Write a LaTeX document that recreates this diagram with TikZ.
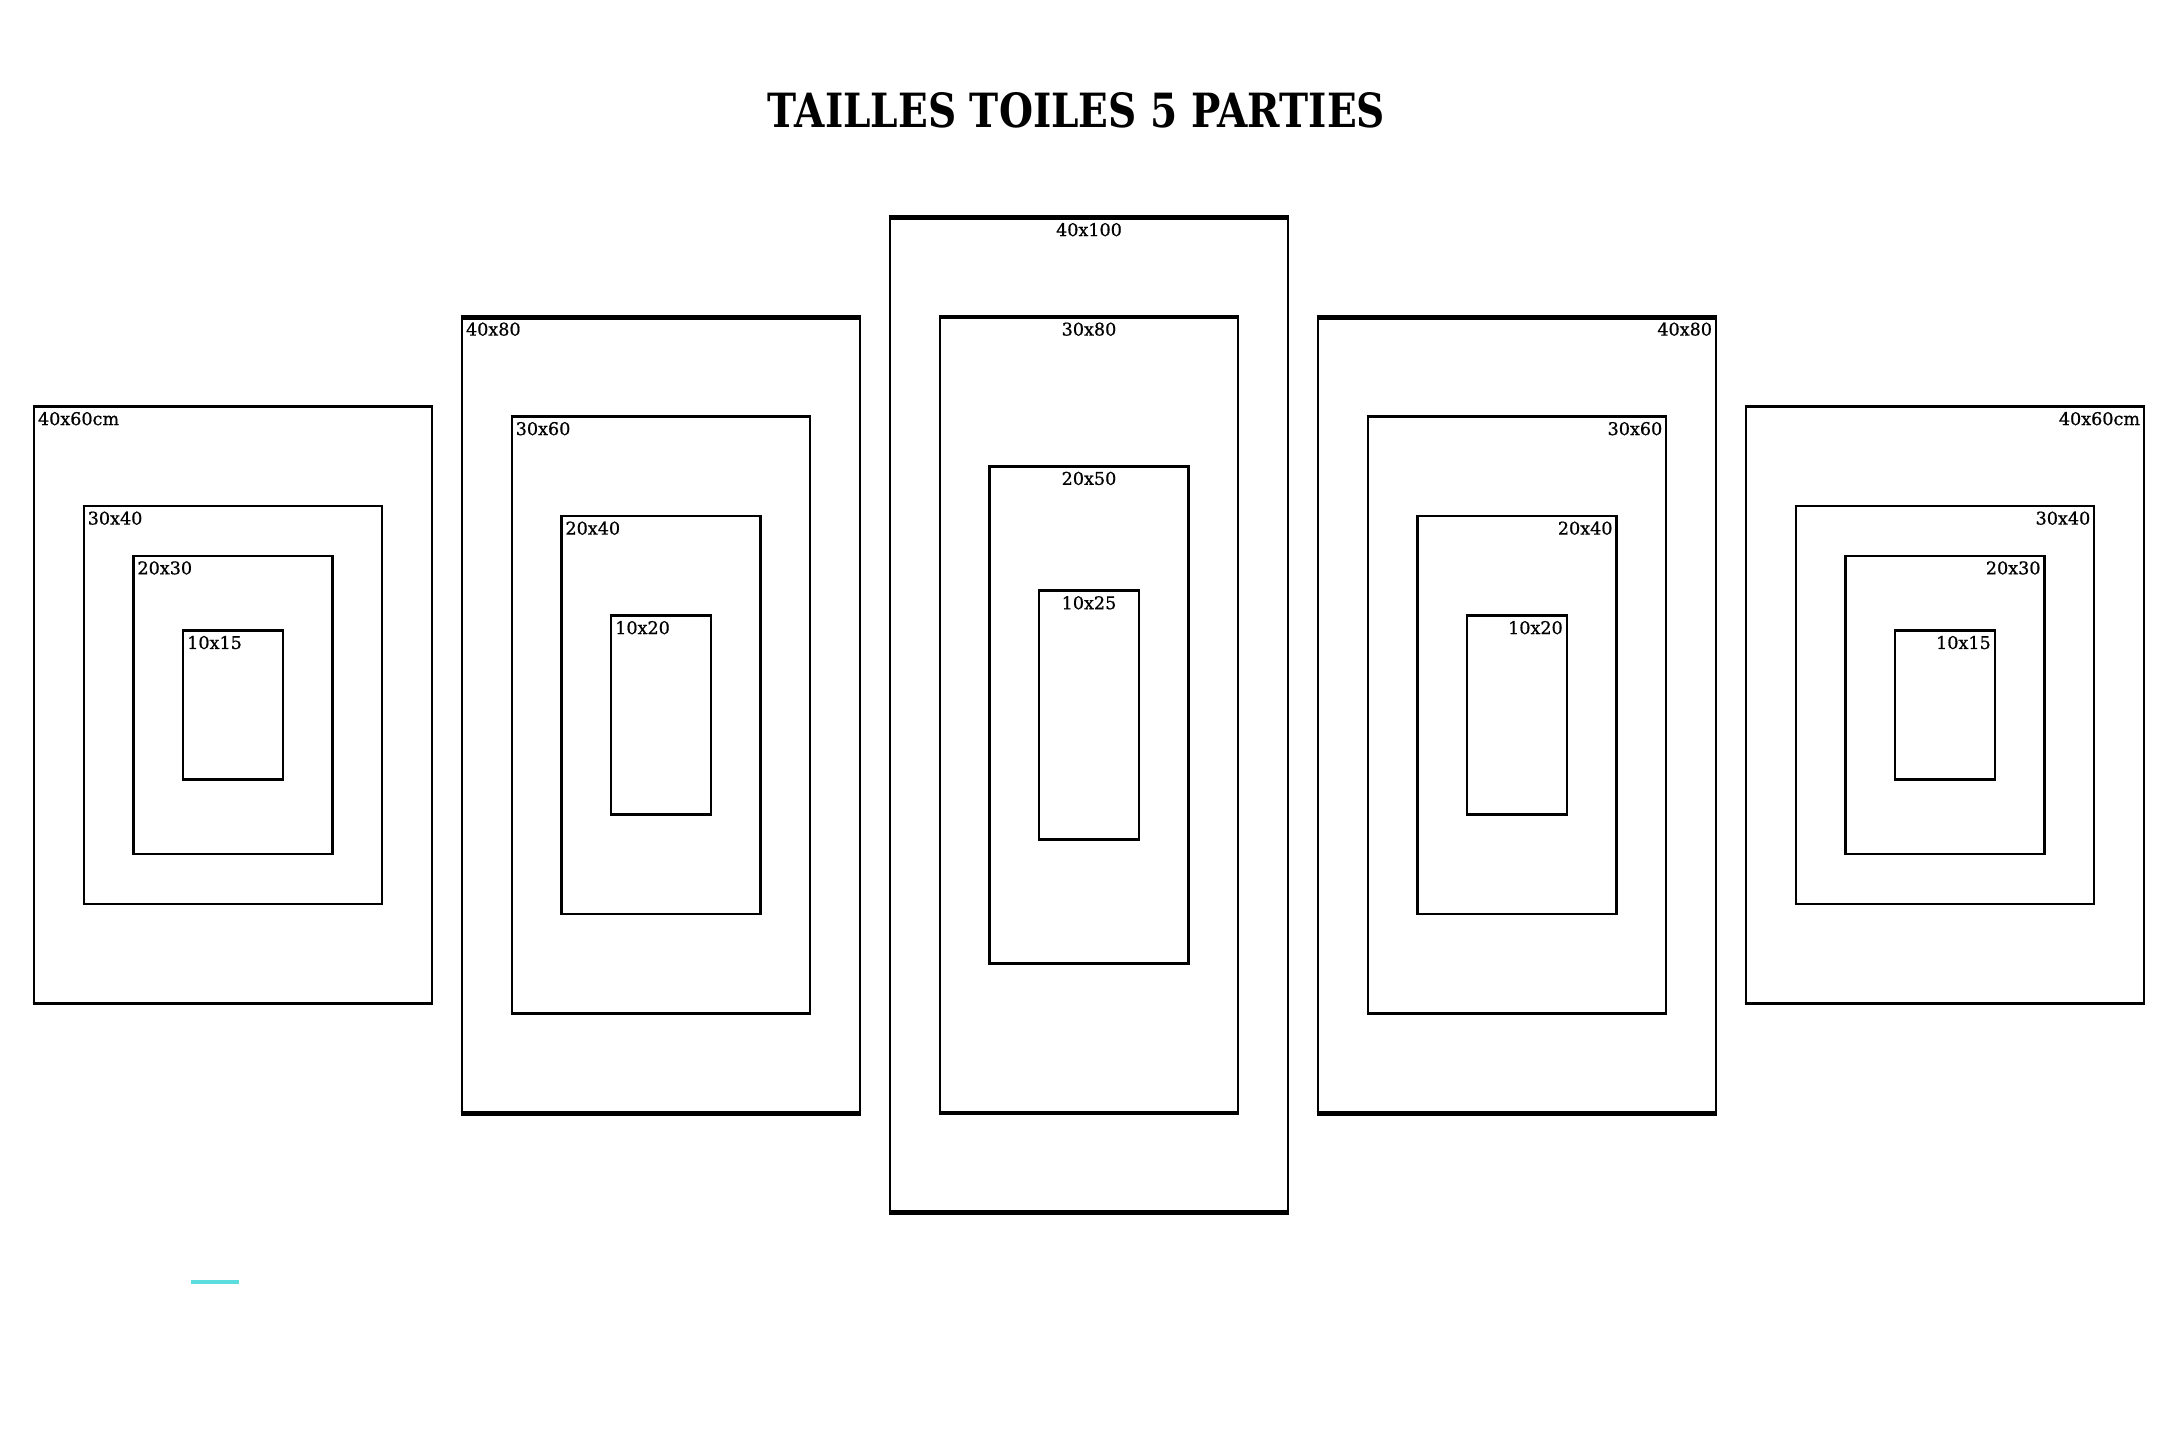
\documentclass[tikz,border=0pt]{standalone}
\usepackage{fontspec}
\usepackage{graphicx}
\setmainfont{DejaVu Serif}
\newfontfamily\lblfont{DejaVu Serif}[FakeBold=0.8]
\definecolor{cyanline}{RGB}{92,221,221}
\newcommand\cbox[7]{%
  \node[cbox, line width=#6, minimum width=#4*0.995mm, minimum height=#5*0.995mm] (#1) at (#2,#3) {};
  \draw[line width=#7] ([xshift=-#6/2]#1.north west) -- ([xshift=#6/2]#1.north east);
  \draw[line width=#7] ([xshift=-#6/2]#1.south west) -- ([xshift=#6/2]#1.south east);
}
\begin{document}
\begin{tikzpicture}[x=0.1mm,y=-0.1mm,
  cbox/.style={draw=black, rectangle, inner sep=0pt, outer sep=0pt},
  lbl/.style={inner sep=0pt, outer sep=0pt, font=\lblfont\fontsize{5pt}{5pt}\selectfont},
  lblL/.style={lbl, anchor=north west, xshift=0.4mm, yshift=-0.55mm},
  lblR/.style={lbl, anchor=north east, xshift=-0.4mm, yshift=-0.55mm},
  lblC/.style={lbl, anchor=north, yshift=-0.55mm},
]
\fill[white] (0,0) rectangle (2164,1429);
\useasboundingbox (0,0) rectangle (2164,1429);

\node[anchor=base, inner sep=0pt] (title) at (1076.5,127) {\resizebox{61.7mm}{3.5mm}{\bfseries TAILLES TOILES 5 PARTIES}};

% Panel 1
\cbox{p1a}{233}{705}{40}{60}{0.27mm}{0.32mm}
\cbox{p1b}{233}{705}{30}{40}{0.24mm}{0.29mm}
\cbox{p1c}{233}{705}{20}{30}{0.22mm}{0.24mm}
\cbox{p1d}{233}{705}{10}{15}{0.22mm}{0.24mm}
\node[lblL] (l1a) at (p1a.north west) {40x60cm};
\node[lblL] (l1b) at (p1b.north west) {30x40};
\node[lblL] (l1c) at (p1c.north west) {20x30};
\node[lblL] (l1d) at (p1d.north west) {10x15};

% Panel 2
\cbox{p2a}{661}{715}{40}{80}{0.27mm}{0.5mm}
\cbox{p2b}{661}{715}{30}{60}{0.24mm}{0.36mm}
\cbox{p2c}{661}{715}{20}{40}{0.22mm}{0.26mm}
\cbox{p2d}{661}{715}{10}{20}{0.22mm}{0.24mm}
\node[lblL] (l2a) at (p2a.north west) {40x80};
\node[lblL] (l2b) at (p2b.north west) {30x60};
\node[lblL] (l2c) at (p2c.north west) {20x40};
\node[lblL] (l2d) at (p2d.north west) {10x20};

% Panel 3
\cbox{p3a}{1089}{715}{40}{100}{0.27mm}{0.5mm}
\cbox{p3b}{1089}{715}{30}{80}{0.24mm}{0.42mm}
\cbox{p3c}{1089}{715}{20}{50}{0.24mm}{0.3mm}
\cbox{p3d}{1089}{715}{10}{25}{0.22mm}{0.24mm}
\node[lblC] (l3a) at (p3a.north) {40x100};
\node[lblC] (l3b) at (p3b.north) {30x80};
\node[lblC] (l3c) at (p3c.north) {20x50};
\node[lblC] (l3d) at (p3d.north) {10x25};

% Panel 4
\cbox{p4a}{1517}{715}{40}{80}{0.27mm}{0.5mm}
\cbox{p4b}{1517}{715}{30}{60}{0.24mm}{0.36mm}
\cbox{p4c}{1517}{715}{20}{40}{0.22mm}{0.26mm}
\cbox{p4d}{1517}{715}{10}{20}{0.22mm}{0.24mm}
\node[lblR] (l4a) at (p4a.north east) {40x80};
\node[lblR] (l4b) at (p4b.north east) {30x60};
\node[lblR] (l4c) at (p4c.north east) {20x40};
\node[lblR] (l4d) at (p4d.north east) {10x20};

% Panel 5
\cbox{p5a}{1945}{705}{40}{60}{0.27mm}{0.32mm}
\cbox{p5b}{1945}{705}{30}{40}{0.24mm}{0.29mm}
\cbox{p5c}{1945}{705}{20}{30}{0.22mm}{0.24mm}
\cbox{p5d}{1945}{705}{10}{15}{0.22mm}{0.24mm}
\node[lblR] (l5a) at (p5a.north east) {40x60cm};
\node[lblR] (l5b) at (p5b.north east) {30x40};
\node[lblR] (l5c) at (p5c.north east) {20x30};
\node[lblR] (l5d) at (p5d.north east) {10x15};

% cyan stroke
\coordinate (c1) at (191,1282);
\coordinate (c2) at (239,1282);
\draw[cyanline, line width=0.32mm] (c1) -- (c2);
\end{tikzpicture}
\end{document}
